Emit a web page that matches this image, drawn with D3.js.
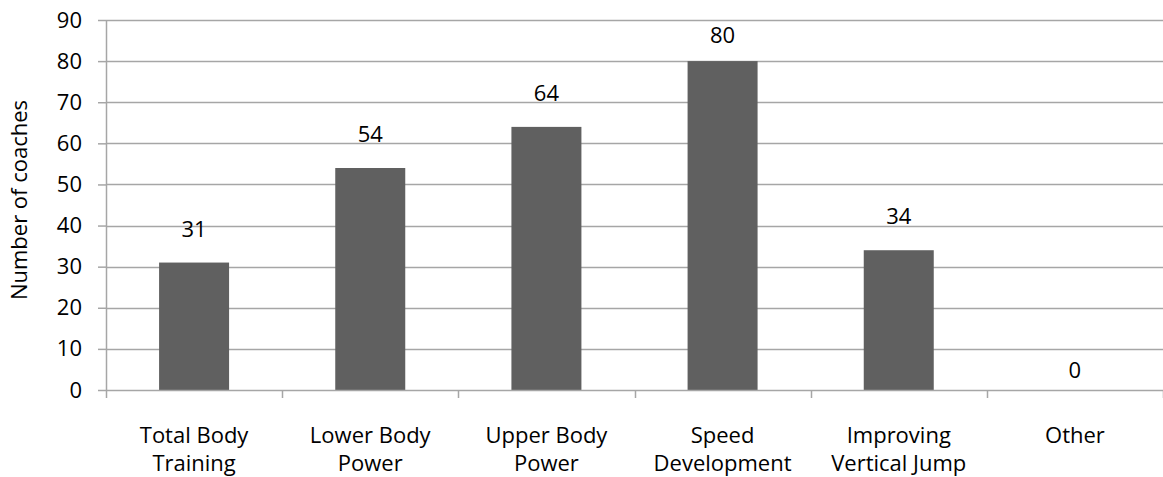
<!DOCTYPE html>
<html>
<head>
<meta charset="utf-8">
<script src="https://cdn.jsdelivr.net/npm/d3@7"></script>
<style>
  body { margin: 0; background: #ffffff; }
  svg text { font-family: "Open Sans", "Noto Sans", sans-serif; fill: #000; }
</style>
</head>
<body>
<div id="chart"></div>
<script>
// chart data
var categories = [
  ["Total Body", "Training"],
  ["Lower Body", "Power"],
  ["Upper Body", "Power"],
  ["Speed", "Development"],
  ["Improving", "Vertical Jump"],
  ["Other"]
];
var values = [31, 54, 64, 80, 34, 0];
var yTicks = [0, 10, 20, 30, 40, 50, 60, 70, 80, 90];
var yTitle = "Number of coaches";

// set the dimensions and margins of the graph
var margin = {top: 20, right: 0, bottom: 87, left: 106},
    width = 1163 - margin.left - margin.right,
    height = 477 - margin.top - margin.bottom;

var svg = d3.select("#chart").append("svg")
    .attr("width", 1163)
    .attr("height", 477);

var g = svg.append("g")
    .attr("transform", "translate(" + margin.left + "," + margin.top + ")");

var y = d3.scaleLinear().domain([0, 90]).range([height, 0]);
var step = width / categories.length;
var barW = 70;

//gridlines
g.selectAll(".grid")
  .data(yTicks.slice(1))
  .enter().append("line")
    .attr("x1", 0).attr("x2", width)
    .attr("y1", function(d) { return Math.round(y(d)) + 0.5; })
    .attr("y2", function(d) { return Math.round(y(d)) + 0.5; })
    .style("stroke", "#a6a6a6")
    .style("stroke-width", 1.5);

//bars
g.selectAll(".bar")
  .data(values)
  .enter().append("rect")
    .attr("class", "bar")
    .attr("x", function(d, i) { return i * step + step / 2 - barW / 2; })
    .attr("width", barW)
    .attr("y", function(d) { return y(d); })
    .attr("height", function(d) { return height - y(d); })
    .style("fill", "#606060");

//value labels (kept inside the plot area like excel does)
g.selectAll(".val")
  .data(values)
  .enter().append("text")
    .attr("x", function(d, i) { return i * step + step / 2; })
    .attr("y", function(d) { return d === 0 ? y(d) - 12 : Math.max(y(d) - 26, 23); })
    .attr("text-anchor", "middle")
    .style("font-size", "22px")
    .text(function(d) { return d; });

//Y axis
var yAxis = g.append("g")
    .call(d3.axisLeft(y).tickValues(yTicks).tickSize(8).tickPadding(16).tickSizeOuter(0));
yAxis.select(".domain").style("stroke", "#a6a6a6").style("stroke-width", 1.5);
yAxis.selectAll(".tick line").style("stroke", "#a6a6a6").style("stroke-width", 1.5);
yAxis.selectAll("text").style("font-size", "22px").style("font-family", "'Open Sans', sans-serif").style("fill", "#000");

//X axis
var xAxis = g.append("g").attr("transform", "translate(0," + height + ")");
xAxis.append("line")
    .attr("x1", 0).attr("x2", width)
    .attr("y1", 0.5).attr("y2", 0.5)
    .style("stroke", "#a6a6a6").style("stroke-width", 1.5);
xAxis.selectAll(".xtick")
  .data(d3.range(categories.length + 1))
  .enter().append("line")
    .attr("x1", function(d) { return Math.round(d * step) + 0.5; })
    .attr("x2", function(d) { return Math.round(d * step) + 0.5; })
    .attr("y1", 0).attr("y2", 8)
    .style("stroke", "#a6a6a6").style("stroke-width", 1.5);

var labels = xAxis.selectAll(".xlabel")
  .data(categories)
  .enter().append("text")
    .attr("text-anchor", "middle")
    .style("font-size", "22px")
    .attr("x", function(d, i) { return i * step + step / 2; })
    .attr("y", 53);
labels.selectAll("tspan")
  .data(function(d, i) { return d.map(function(t) { return {t: t, i: i}; }); })
  .enter().append("tspan")
    .attr("x", function(d) { return d.i * step + step / 2; })
    .attr("dy", function(d, j) { return j === 0 ? 0 : 28; })
    .text(function(d) { return d.t; });

//Y title
svg.append("text")
    .attr("transform", "translate(27,200) rotate(-90)")
    .attr("text-anchor", "middle")
    .style("font-size", "22px")
    .text(yTitle);
</script>
</body>
</html>
